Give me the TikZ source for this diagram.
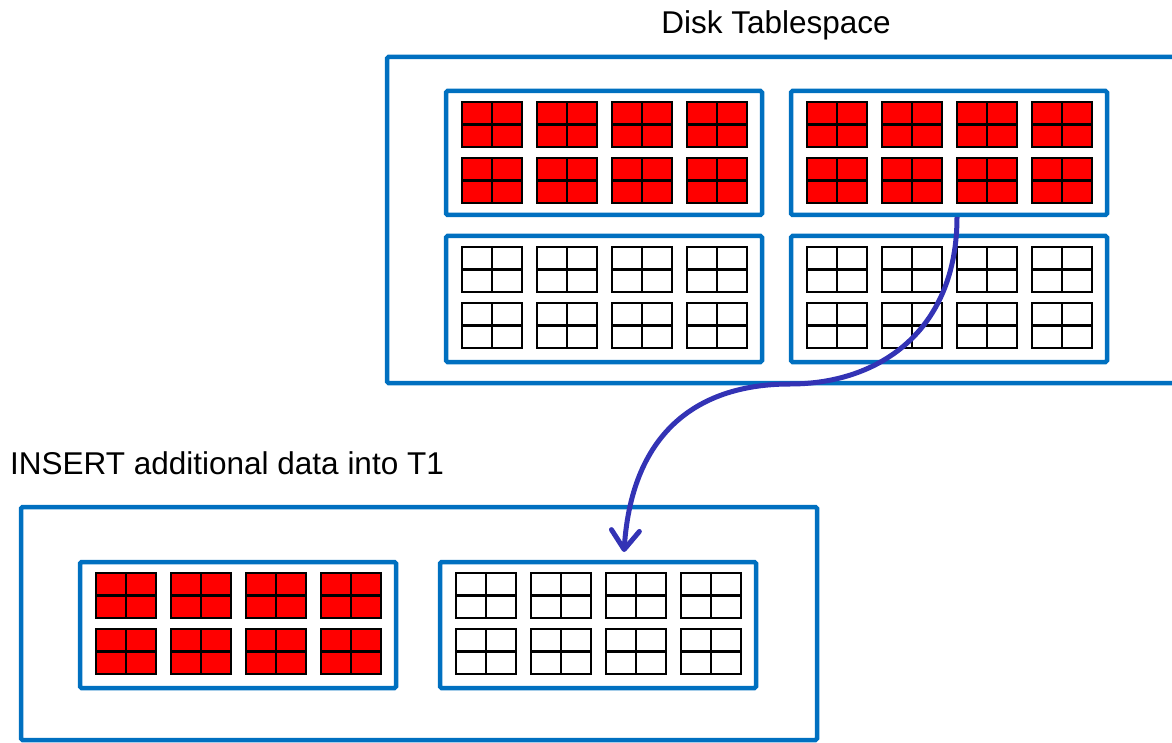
\documentclass[tikz,border=0pt]{standalone}
\usepackage{fontspec}
\setmainfont{Liberation Sans}
\usetikzlibrary{arrows.meta}
\definecolor{boxblue}{RGB}{0,112,192}
\definecolor{flowblue}{RGB}{51,51,181}
\tikzset{
  outerbox/.style={draw=boxblue, line width=4.5pt, rounded corners=1.5pt, anchor=north west, inner sep=0pt, outer sep=0pt},
  panelbox/.style={outerbox, minimum width=316pt},
  pageblk/.style={draw=black, line width=2.2pt},
  boxtitle/.style={font=\fontsize{31.5}{36}\selectfont, inner sep=0pt},
  flow/.style={draw=flowblue, line width=5pt, -{Straight Barb[length=19pt,width=28pt,round]}}
}
\begin{document}
\begin{tikzpicture}[x=1pt, y=-1pt]
    \useasboundingbox (0,0) rectangle (1172,743);
    \clip (0,0) rectangle (1172,743);

    % tablespace on disk
    \node[boxtitle] (disktitle) at (776,25) {Disk Tablespace};
    \node[outerbox, minimum width=810pt, minimum height=326pt] (disk) at (387,57) {};

    \node[panelbox, minimum height=124pt] (tl) at (446,91) {};
    \node[panelbox, minimum height=124pt] (tr) at (791,91) {};
    \node[panelbox, minimum height=126pt] (bl) at (446,236) {};
    \node[panelbox, minimum height=126pt] (br) at (791,236) {};

    % table T1
    \node[boxtitle, anchor=base west] (instext) at (10,474) {INSERT additional data into T1};
    \node[outerbox, minimum width=796pt, minimum height=233pt] (tone) at (21,507) {};

    \node[panelbox, minimum height=126pt] (tonel) at (80,562) {};
    \node[panelbox, minimum height=126pt] (toner) at (440,562) {};

    % pages (2x2 grids)
    \foreach \p/\c in {tl/red, tr/red, bl/white, br/white, tonel/red, toner/white} {
      \begin{scope}[shift={(\p.north west)}]
        \foreach \i in {0,...,3}
          \foreach \j in {0,1} {
            \filldraw[pageblk, fill=\c] (16+75*\i, 11+56*\j) rectangle ++(60,45);
            \draw[pageblk] (46+75*\i, 11+56*\j) -- ++(0,45)
                           (16+75*\i, 33.5+56*\j) -- ++(60,0);
          }
      \end{scope}
    }

    \coordinate (src) at ([xshift=8pt,yshift=-2pt]tr.south);
    \coordinate (bend) at (790,384);
    \coordinate (dst) at ([xshift=26pt,yshift=10pt]toner.north);

    \draw[flow] (src) .. controls (957,330) and (880,384) .. (bend)
                      .. controls (700,384) and (632,430) .. (dst);
\end{tikzpicture}
\end{document}
